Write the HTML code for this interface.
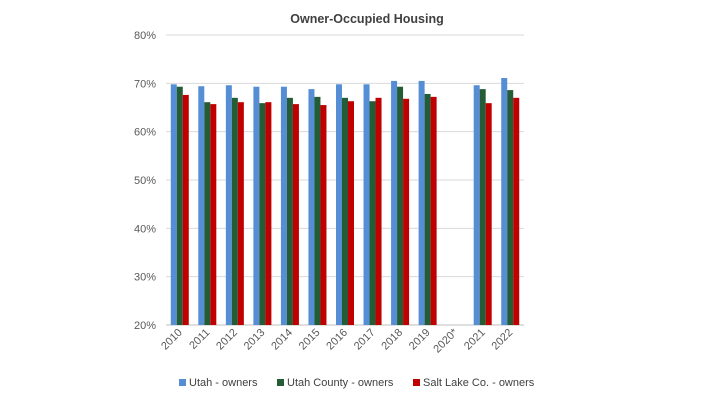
<!DOCTYPE html>
<html><head><meta charset="utf-8"><style>
body{margin:0;background:#fff;font-family:"Liberation Sans",sans-serif}
svg text{font-family:"Liberation Sans",sans-serif}
</style></head><body>
<svg width="720" height="405" id="chart">
<text x="367" y="23" text-anchor="middle" font-size="12.5" font-weight="bold" fill="#404040">Owner-Occupied Housing</text>
<g id="grid"></g><g id="bars"></g><g id="xlabels"></g>
<g>
<rect x="179" y="379" width="7" height="7" fill="#558ed5"/>
<text x="189" y="386" font-size="11" fill="#404040">Utah - owners</text>
<rect x="277" y="379" width="7" height="7" fill="#245c36"/>
<text x="287" y="386" font-size="11" fill="#404040">Utah County - owners</text>
<rect x="413" y="379" width="7" height="7" fill="#c00000"/>
<text x="423" y="386" font-size="11" fill="#404040">Salt Lake Co. - owners</text>
</g>
</svg>
<script>
const categories=["2010","2011","2012","2013","2014","2015","2016","2017","2018","2019","2020*","2021","2022"];
const utah=[69.8,69.4,69.6,69.3,69.3,68.8,69.8,69.8,70.5,70.5,null,69.6,71.1];
const utahCounty=[69.3,66.1,67.0,65.9,67.0,67.2,67.0,66.3,69.3,67.8,null,68.8,68.6];
const saltLake=[67.6,65.7,66.1,66.1,65.7,65.5,66.3,67.0,66.8,67.2,null,65.9,67.0];
const yTicks=[20,30,40,50,60,70,80];
const NS="http://www.w3.org/2000/svg";
const L=166,R=524,T=35,B=325,yMin=20,yMax=80;
const y=v=>B-(v-yMin)/(yMax-yMin)*(B-T);
const band=(R-L)/categories.length;
const x=i=>L+i*band;
function mk(tag,attrs,parent){const e=document.createElementNS(NS,tag);for(const k in attrs)e.setAttribute(k,attrs[k]);parent.appendChild(e);return e;}
const grid=document.getElementById('grid');
yTicks.forEach(t=>{
 const ln=mk('line',{x1:L,x2:R,y1:y(t),y2:y(t),stroke:t===20?'#bfbfbf':'#d9d9d9','stroke-width':1},grid);
 
 
 const tx=mk('text',{x:156,y:y(t)+4,'text-anchor':'end','font-size':11,fill:'#595959'},grid);
 tx.textContent=t+'%';
 
 
});
const series=[[utah,'#558ed5','utah'],[utahCounty,'#245c36','utah-county'],[saltLake,'#c00000','salt-lake']];
const bw=6,bars=document.getElementById('bars');
categories.forEach((c,i)=>{
 const start=x(i)+band/2-bw*1.5;
 series.forEach((s,j)=>{
  const v=s[0][i]; if(v==null)return;
  const r=mk('rect',{x:start+j*bw,y:y(v),width:bw,height:B-y(v),fill:s[1]},bars);
  
  
 });
 const cx=x(i)+band/2+3, cy=B+8;
 const tx=mk('text',{x:cx,y:cy,'text-anchor':'end','font-size':11,fill:'#595959',transform:`rotate(-45 ${cx} ${cy})`},document.getElementById('xlabels'));
 tx.textContent=c;
 
 
});
</script>
</body></html>
